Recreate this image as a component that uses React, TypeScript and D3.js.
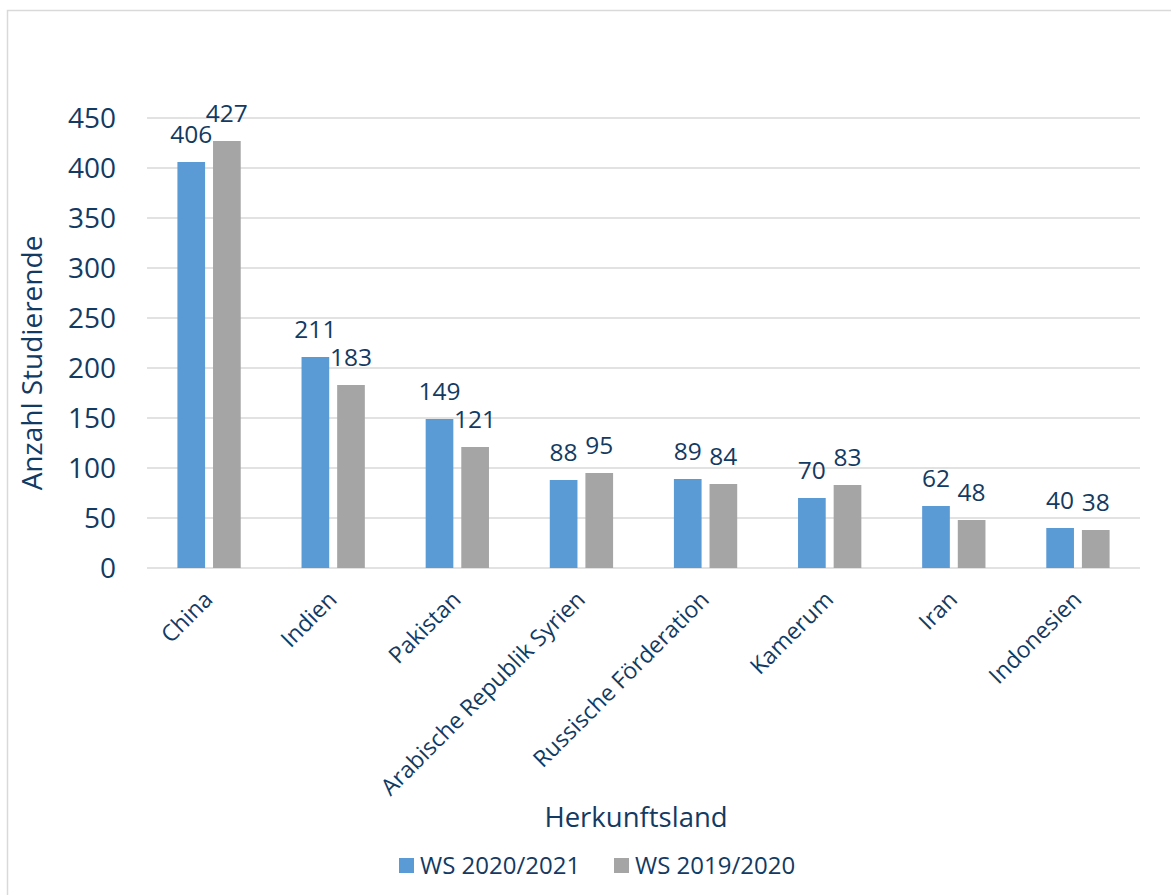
import React from "react";
import * as d3 from "d3";

const categories = ["China", "Indien", "Pakistan", "Arabische Republik Syrien", "Russische Förderation", "Kamerum", "Iran", "Indonesien"];
const ws2021 = [406, 211, 149, 88, 89, 70, 62, 40];
const ws2019 = [427, 183, 121, 95, 84, 83, 48, 38];
const seriesNames = ["WS 2020/2021", "WS 2019/2020"];
const yTicks = [0, 50, 100, 150, 200, 250, 300, 350, 400, 450];

const W = 1171, H = 895;
const left = 147, right = 1140, top = 118, bottom = 568;
const textColor = "#123A62";
const colors = ["#5B9BD5", "#A5A5A5"];
const font = "'Open Sans', sans-serif";

export default function App() {
  const x = d3.scaleBand<string>().domain(categories).range([left, right]).paddingInner(0).paddingOuter(0);
  const y = d3.scaleLinear().domain([0, 450]).range([bottom, top]);
  const step = x.bandwidth();
  const barW = step * 0.223;
  const gap = step * 0.064;
  const series = [ws2021, ws2019];

  return (
    <svg width={W} height={H} style={{ position: "absolute", left: 0, top: 0, background: "#fff" }} fontFamily={font}>
      <rect x={7.5} y={10.5} width={W + 10} height={H + 10} fill="#fff" stroke="#D9D9D9" strokeWidth={1.5} />
      {yTicks.map((t) => (
        <g key={t}>
          <line x1={left} x2={right} y1={y(t)} y2={y(t)} stroke="#D9D9D9" strokeWidth={1.5} />
          <text x={116} y={y(t)} dy="0.36em" textAnchor="end" fontSize={28} fill={textColor}>{t}</text>
        </g>
      ))}
      {categories.map((c, i) => {
        const cx = (x(c) as number) + step / 2;
        return (
          <g key={c}>
            {series.map((s, k) => {
              const bx = k === 0 ? cx - gap / 2 - barW : cx + gap / 2;
              return (
                <g key={k}>
                  <rect x={bx} y={y(s[i])} width={barW} height={bottom - y(s[i])} fill={colors[k]} />
                  <text x={bx + barW / 2} y={y(s[i]) - 19} textAnchor="middle" fontSize={24.5} fill={textColor}>{s[i]}</text>
                </g>
              );
            })}
            <text transform={`translate(${cx + 5},${601}) rotate(-45)`} textAnchor="end" fontSize={23} fill={textColor}>{c}</text>
          </g>
        );
      })}
      <text transform={`translate(42,363) rotate(-90)`} textAnchor="middle" fontSize={28} fill={textColor}>Anzahl Studierende</text>
      <text x={636} y={827} textAnchor="middle" fontSize={27.5} fill={textColor}>Herkunftsland</text>
      {seriesNames.map((n, k) => {
        const lx = k === 0 ? 399 : 614;
        return (
          <g key={n}>
            <rect x={lx} y={858} width={15} height={15} fill={colors[k]} />
            <text x={lx + 21} y={874} fontSize={24} fill={textColor}>{n}</text>
          </g>
        );
      })}
    </svg>
  );
}
